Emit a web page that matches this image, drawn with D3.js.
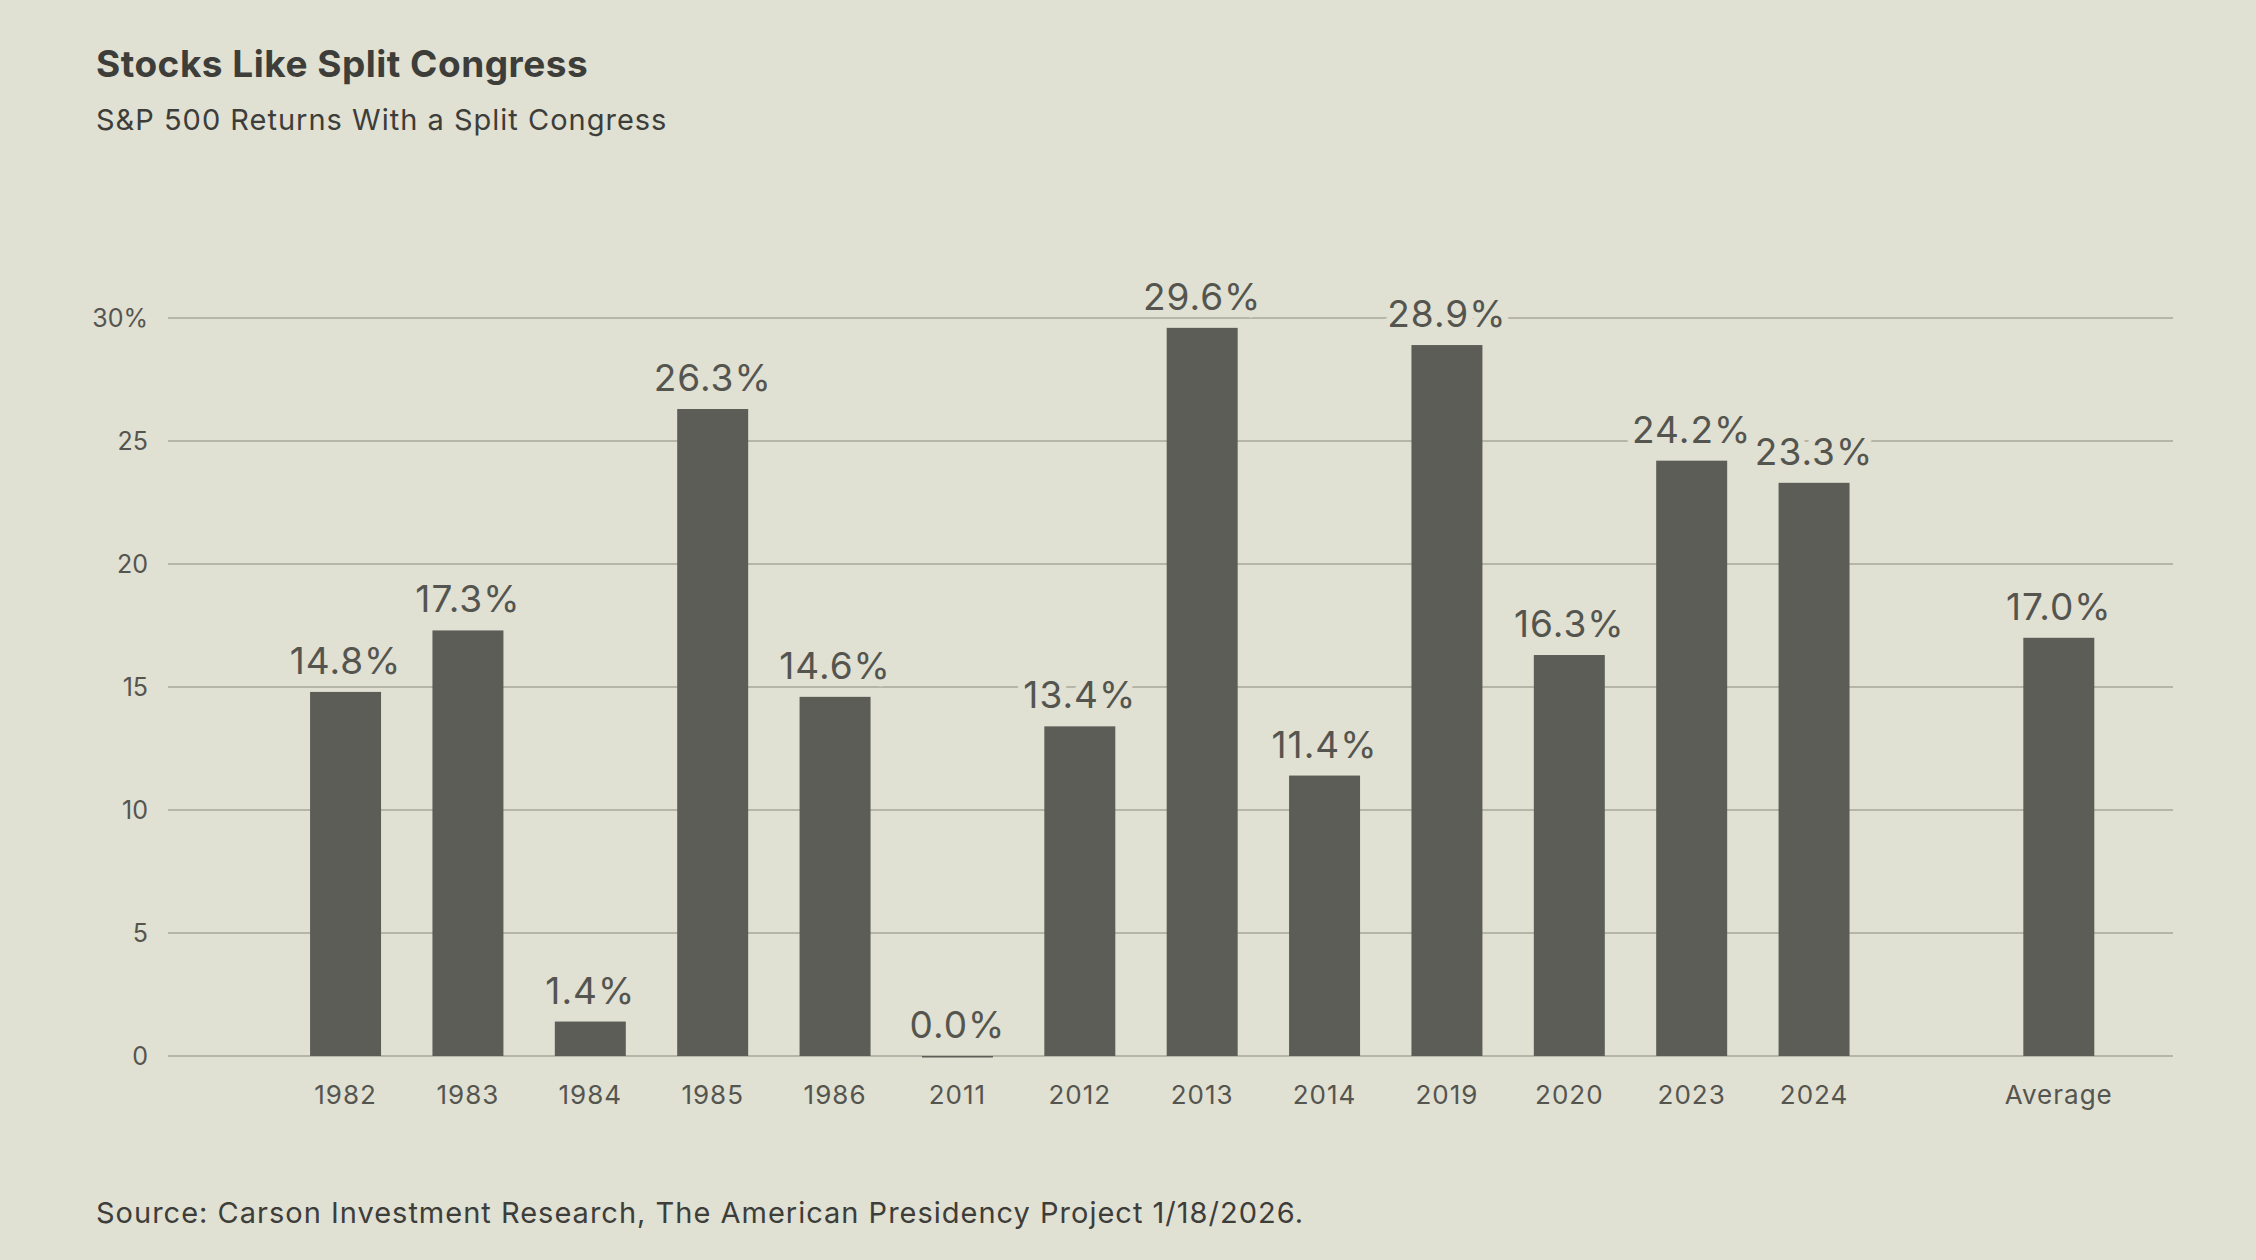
<!DOCTYPE html><html><head><meta charset="utf-8">
<script src="https://cdn.jsdelivr.net/npm/d3@7"></script>
<style>body{margin:0;background:#e0e0d3}text{font-family:Inter,"DejaVu Sans",sans-serif}</style></head><body>
<svg id="c" width="2256" height="1260"></svg>
<script>
const categories=["1982","1983","1984","1985","1986","2011","2012","2013","2014","2019","2020","2023","2024","Average"];
const values=[14.8,17.3,1.4,26.3,14.6,0.0,13.4,29.6,11.4,28.9,16.3,24.2,23.3,17.0];
const yTicks=[0,5,10,15,20,25,30];
const svg=d3.select("#c");
const bg="#e0e0d3",ink="#3d3d3a",bar="#5c5d57",grid="#b5b6a8";
svg.append("rect").attr("width",2256).attr("height",1260).attr("fill",bg);
const slots=["_a",...categories.slice(0,13),"_b","Average"];
const x=d3.scaleBand().domain(slots).range([162,2120]).paddingInner(0.42).paddingOuter(0.21);
const y=d3.scaleLinear().domain([0,30]).range([1056,318]);
svg.append("text").attr("x",96).attr("y",77).attr("font-size",37).attr("font-weight",700).attr("fill",ink).attr("letter-spacing",0.5).text("Stocks Like Split Congress");
svg.append("text").attr("x",96).attr("y",130).attr("font-size",29).attr("fill",ink).attr("letter-spacing",1).text("S&P 500 Returns With a Split Congress");
const g=svg.append("g");
yTicks.forEach(t=>{
 g.append("line").attr("x1",168).attr("x2",2173).attr("y1",y(t)).attr("y2",y(t)).attr("stroke",grid).attr("stroke-width",2);
 g.append("text").attr("x",148).attr("y",y(t)+9).attr("text-anchor","end").attr("font-size",25).attr("fill","#55554f").text(t===30?"30%":t);
});
g.selectAll(".b").data(categories).enter().append("rect")
 .attr("x",d=>x(d)).attr("width",x.bandwidth()).attr("y",(d,i)=>y(values[i])).attr("height",(d,i)=>Math.max(1.5,y(0)-y(values[i]))).attr("fill",bar);
g.selectAll(".l").data(categories).enter().append("text")
 .attr("x",d=>x(d)+x.bandwidth()/2).attr("y",(d,i)=>y(values[i])-18).attr("text-anchor","middle")
 .attr("font-size",37).attr("fill","#55554f").attr("letter-spacing",1)
 .attr("stroke",bg).attr("stroke-width",14).attr("paint-order","stroke").attr("stroke-linejoin","round")
 .text((d,i)=>values[i].toFixed(1)+"%");
g.selectAll(".x").data(categories).enter().append("text")
 .attr("x",d=>x(d)+x.bandwidth()/2).attr("y",1104).attr("text-anchor","middle").attr("font-size",26).attr("fill","#55554f").attr("letter-spacing",1).text(d=>d);
svg.append("text").attr("x",96).attr("y",1223).attr("font-size",29).attr("fill",ink).attr("letter-spacing",1).text("Source: Carson Investment Research, The American Presidency Project 1/18/2026.");
</script></body></html>
